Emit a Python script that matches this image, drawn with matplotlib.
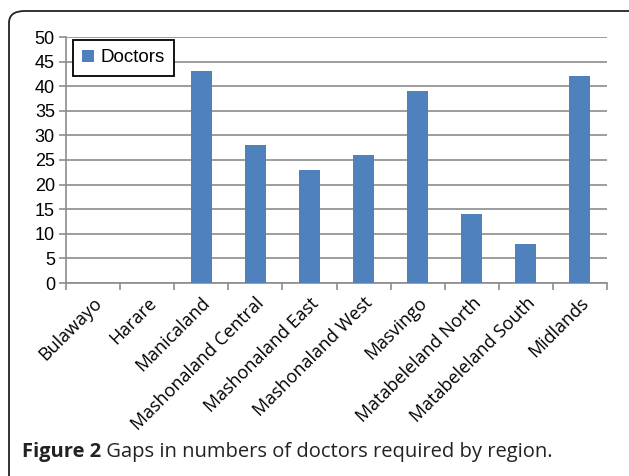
import matplotlib
matplotlib.use("Agg")
import matplotlib.pyplot as plt
from matplotlib.patches import FancyBboxPatch
import numpy as np

regions = ["Bulawayo", "Harare", "Manicaland", "Mashonaland Central", "Mashonaland East",
           "Mashonaland West", "Masvingo", "Matabeleland North", "Matabeleland South", "Midlands"]
doctors = [0, 0, 43, 28, 23, 26, 39, 14, 8, 42]
yticks = [0, 5, 10, 15, 20, 25, 30, 35, 40, 45, 50]
series_name = "Doctors"
caption_bold = "Figure 2"
caption_rest = " Gaps in numbers of doctors required by region."

W, H = 629, 476
fig = plt.figure(figsize=(W / 100, H / 100), dpi=100)
ax = fig.add_axes([66 / W, 1 - 283 / H, (607 - 66) / W, (283 - 37) / H])

x = np.arange(len(regions))
ax.bar(x, doctors, width=0.39, color="#4F81BD", label=series_name, zorder=3)

ax.set_xlim(-0.5, len(regions) - 0.5)
ax.set_ylim(0, 50)
ax.set_yticks(yticks)
ax.set_yticklabels([str(v) for v in yticks], fontsize=13, family="Liberation Sans")
ax.yaxis.grid(True, color="#8c8c8c", linewidth=1.2, zorder=0)
ax.set_axisbelow(True)

ax.set_xticks(x)
ax.set_xticklabels(regions, rotation=45, ha="right", rotation_mode="anchor",
                   fontsize=13, family="Open Sans")
ax.tick_params(axis="x", which="major", length=0, pad=8)
ax.set_xticks(np.arange(-0.5, len(regions)), minor=True)
ax.tick_params(axis="x", which="minor", length=5, color="#8c8c8c", width=1.2, direction="out")
ax.tick_params(axis="y", length=5, color="#8c8c8c", width=1.2, pad=3)

for s in ["top", "right"]:
    ax.spines[s].set_visible(False)
for s in ["left", "bottom"]:
    ax.spines[s].set_color("#8c8c8c")
    ax.spines[s].set_linewidth(1.2)

leg = ax.legend(loc="upper left", bbox_to_anchor=(0.013, 0.988), borderaxespad=0,
                fancybox=False, edgecolor="black", framealpha=1,
                handlelength=0.6, handleheight=0.6, handletextpad=0.35, borderpad=0.5,
                prop={"family": "Liberation Sans", "size": 13.5})
leg.get_frame().set_linewidth(1.3)

# outer rounded frame
frame = FancyBboxPatch((9 / W, -0.05), (W + 20 - 9) / W, (H - 11) / H + 0.05,
                       boxstyle="round,pad=0,rounding_size=0.025",
                       transform=fig.transFigure, fill=False, edgecolor="#222222",
                       linewidth=1.3, clip_on=False)
fig.patches.append(frame)

# caption
t1 = fig.text(22 / W, 1 - 452 / H, caption_bold, fontsize=14.5, fontweight="bold",
              family="Open Sans", va="center", ha="left", color="#222222")
fig.canvas.draw()
bb = t1.get_window_extent()
fig.text(bb.x1 / W, 1 - 452 / H, caption_rest, fontsize=14.5,
         family="Open Sans", va="center", ha="left", color="#222222")

fig.savefig("out.png", dpi=100)
